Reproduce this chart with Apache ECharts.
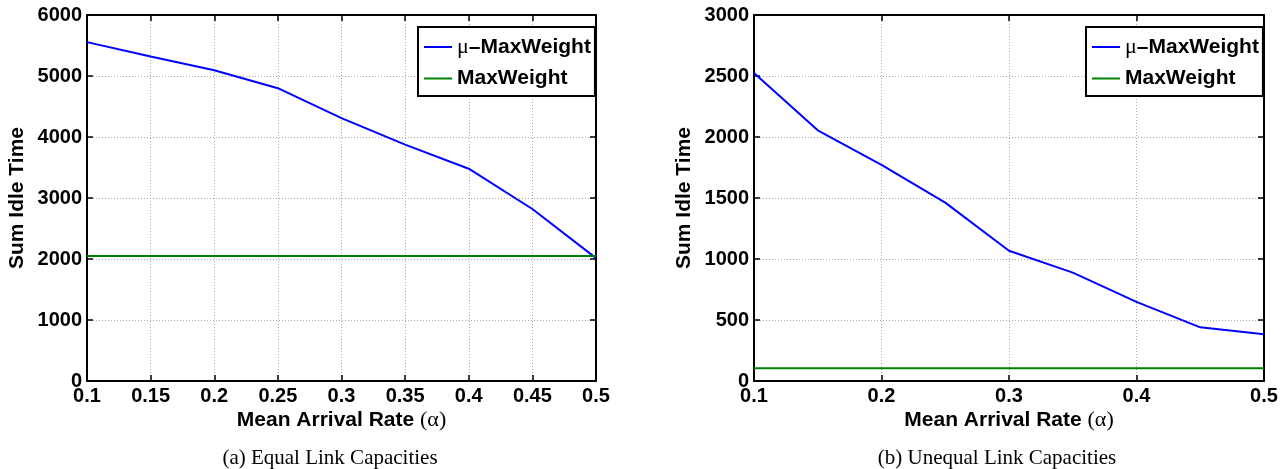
<!DOCTYPE html>
<html>
<head>
<meta charset="utf-8">
<script src="https://cdn.jsdelivr.net/npm/echarts@6/dist/echarts.min.js"></script>
<style>
html,body{margin:0;padding:0;background:#fff;}
#c{width:1286px;height:469px;}
</style>
</head>
<body>
<div id="c"></div>
<script>
// ---- data ----
const xValues = [0.1, 0.15, 0.2, 0.25, 0.3, 0.35, 0.4, 0.45, 0.5];
const equalMuMaxWeight = [5555, 5320, 5095, 4800, 4310, 3875, 3480, 2820, 2015];
const equalMaxWeight = [2050, 2050, 2050, 2050, 2050, 2050, 2050, 2050, 2050];
const unequalMuMaxWeight = [2525, 2055, 1772, 1462, 1068, 888, 648, 440, 383];
const unequalMaxWeight = [105, 105, 105, 105, 105, 105, 105, 105, 105];
const seriesNames = ['μ–MaxWeight', 'MaxWeight'];
const captions = ['(a) Equal Link Capacities', '(b) Unequal Link Capacities'];
const yTitle = 'Sum Idle Time';

const pairs = (ys) => xValues.map((x, i) => [x, ys[i]]);
const SANS = 'Liberation Sans, Arial, Helvetica, sans-serif';
const SERIF = 'Liberation Serif, Times New Roman, serif';

const grids = [
  {left: 87, top: 15, width: 509, height: 366},
  {left: 754, top: 15, width: 510, height: 366}
];
const xIntervals = [0.05, 0.1];
const yMax = [6000, 3000];
const yInterval = [1000, 500];
const yNameGap = [59, 59];

const xAxes = [], yAxes = [];
grids.forEach((g, gi) => {
  const tick = {show: true, inside: true, length: 6, lineStyle: {color: '#000', width: 1.5}};
  const line = {show: true, onZero: false, lineStyle: {color: '#000', width: 2}};
  xAxes.push({
    type: 'value', gridIndex: gi, position: 'bottom', min: 0.1, max: 0.5, interval: xIntervals[gi],
    axisLine: line, axisTick: tick,
    axisLabel: {margin: 5, color: '#000', fontFamily: SANS, fontWeight: 'bold', fontSize: 20,
      formatter: v => String(+v.toFixed(2))},
    splitLine: {show: true, lineStyle: {color: '#aaa', type: [1, 2], width: 1}},
    name: '{b|Mean Arrival Rate }{a|(α)}', nameLocation: 'middle', nameGap: 28,
    nameMoveOverlap: false,
    nameTextStyle: {rich: {
      b: {fontFamily: SANS, fontWeight: 'bold', fontSize: 21, color: '#000'},
      a: {fontFamily: SERIF, fontSize: 22, color: '#000'}
    }}
  });
  xAxes.push({
    type: 'value', gridIndex: gi, position: 'top', min: 0.1, max: 0.5, interval: xIntervals[gi],
    axisLine: line, axisTick: tick, axisLabel: {show: false}, splitLine: {show: false}
  });
  yAxes.push({
    type: 'value', gridIndex: gi, position: 'left', min: 0, max: yMax[gi], interval: yInterval[gi],
    axisLine: line, axisTick: tick,
    axisLabel: {margin: 5, color: '#000', fontFamily: SANS, fontWeight: 'bold', fontSize: 20,
      formatter: v => String(v)},
    splitLine: {show: true, lineStyle: {color: '#aaa', type: [1, 2], width: 1}},
    name: yTitle, nameLocation: 'middle', nameGap: yNameGap[gi], nameMoveOverlap: false,
    nameTextStyle: {fontFamily: SANS, fontWeight: 'bold', fontSize: 21, color: '#000'}
  });
  yAxes.push({
    type: 'value', gridIndex: gi, position: 'right', min: 0, max: yMax[gi], interval: yInterval[gi],
    axisLine: line, axisTick: tick, axisLabel: {show: false}, splitLine: {show: false}
  });
});

const mkSeries = (name, color, ys, gi) => ({
  type: 'line', name: name, xAxisIndex: gi * 2, yAxisIndex: gi * 2,
  data: pairs(ys), symbol: 'none', showSymbol: false, animation: false,
  lineStyle: {color: color, width: 2}, itemStyle: {color: color}, z: 3
});

const legendText = {
  rich: {
    m: {fontFamily: SERIF, fontSize: 22, color: '#000', lineHeight: 22},
    b: {fontFamily: SANS, fontWeight: 'bold', fontSize: 21, color: '#000', lineHeight: 22}
  }
};
const legendFmt = n => n === seriesNames[0] ? '{m|μ}{b|–MaxWeight}' : '{b|MaxWeight}';
const mkLegend = (left) => ({
  orient: 'vertical', left: left, top: 27, data: seriesNames,
  icon: 'rect', itemWidth: 28, itemHeight: 2, itemGap: 10,
  padding: [9, 4, 7, 6], borderColor: '#000', borderWidth: 2, backgroundColor: '#fff',
  formatter: legendFmt, textStyle: legendText, selectedMode: false
});

const option = {
  animation: false,
  backgroundColor: '#fff',
  grid: grids.map(g => Object.assign({show: true, borderColor: '#000', borderWidth: 0, backgroundColor: 'transparent'}, g)),
  xAxis: xAxes,
  yAxis: yAxes,
  legend: [mkLegend(418), mkLegend(1086)],
  series: [
    mkSeries(seriesNames[0], '#0000ff', equalMuMaxWeight, 0),
    mkSeries(seriesNames[1], '#008000', equalMaxWeight, 0),
    mkSeries(seriesNames[0], '#0000ff', unequalMuMaxWeight, 1),
    mkSeries(seriesNames[1], '#008000', unequalMaxWeight, 1)
  ],
  graphic: [
    {type: 'text', x: 330, y: 458, style: {text: captions[0], font: '21px ' + SERIF, fill: '#000', align: 'center', verticalAlign: 'middle'}},
    {type: 'text', x: 997, y: 458, style: {text: captions[1], font: '21px ' + SERIF, fill: '#000', align: 'center', verticalAlign: 'middle'}}
  ]
};
const chart = echarts.init(document.getElementById('c'), null, {renderer: 'canvas'});
chart.setOption(option);
</script>
</body>
</html>
